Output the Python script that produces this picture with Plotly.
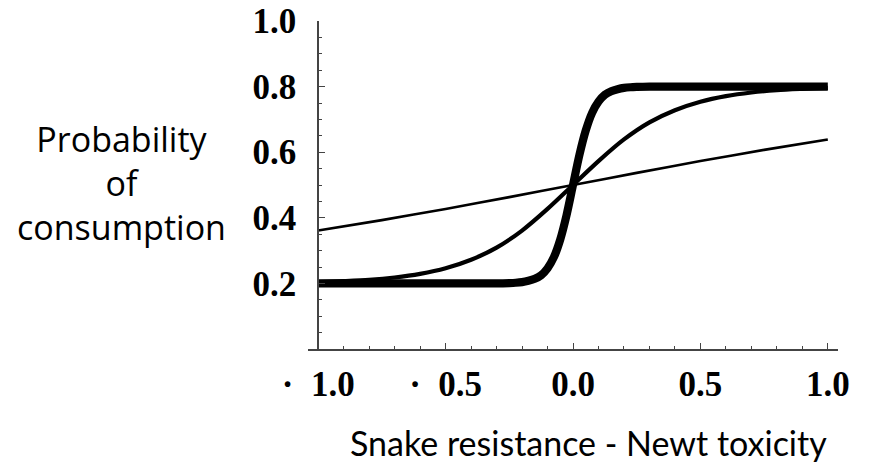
import plotly.graph_objects as go

# Values
thin_x = [-1.0, -0.75, -0.5, -0.25, 0.0, 0.25, 0.5, 0.75, 1.0]
thin_y = [0.361, 0.393, 0.427, 0.463, 0.500, 0.537, 0.573, 0.607, 0.639]

mid_x = [-1.0, -0.9, -0.8, -0.7, -0.6, -0.5, -0.4, -0.3, -0.2, -0.1, 0.0,
         0.1, 0.2, 0.3, 0.4, 0.5, 0.6, 0.7, 0.8, 0.9, 1.0]
mid_y = [0.204, 0.207, 0.211, 0.218, 0.229, 0.246, 0.272, 0.309, 0.361, 0.427, 0.500,
         0.573, 0.639, 0.691, 0.728, 0.754, 0.771, 0.782, 0.789, 0.793, 0.796]

thick_x = [-1.0, -0.5, -0.3, -0.25, -0.225, -0.2, -0.175, -0.15, -0.125, -0.1, -0.075, -0.05, -0.025,
           0.0, 0.025, 0.05, 0.075, 0.1, 0.125, 0.15, 0.175, 0.2, 0.225, 0.25, 0.3, 0.5, 1.0]
thick_y = [0.200, 0.200, 0.200, 0.201, 0.202, 0.204, 0.208, 0.214, 0.225, 0.246, 0.280, 0.334, 0.409,
           0.500, 0.591, 0.666, 0.720, 0.754, 0.775, 0.786, 0.792, 0.796, 0.798, 0.799, 0.800, 0.800, 0.800]

x_tick_vals = [-1.0, -0.5, 0.0, 0.5, 1.0]
x_tick_text = ["·\u00a0\u00a01.0", "·\u00a0\u00a00.5", "0.0", "0.5", "1.0"]
y_tick_vals = [0.2, 0.4, 0.6, 0.8, 1.0]
y_tick_text = ["0.2", "0.4", "0.6", "0.8", "1.0"]

x_title = "Snake resistance - Newt toxicity"
y_title = "Probability<br>of<br>consumption"

fig = go.Figure()
for xs, ys, w in [(thin_x, thin_y, 2.6), (mid_x, mid_y, 4.2), (thick_x, thick_y, 8.2)]:
    fig.add_trace(go.Scatter(x=xs, y=ys, mode="lines",
                             line=dict(color="black", width=w, shape="spline", smoothing=0.8),
                             showlegend=False, hoverinfo="skip"))

L, R, T, B = 308, 32, 21, 114
W, H = 870, 463
plot_w = W - L - R
plot_h = H - T - B
axis_col = "#444444"
tick_font = dict(family="Liberation Serif", size=35, color="black", weight="bold")

fig.update_layout(
    width=W, height=H,
    margin=dict(l=L, r=R, t=T, b=B, pad=0, autoexpand=False),
    paper_bgcolor="white", plot_bgcolor="white",
    xaxis=dict(range=[-1.04, 1.04], showgrid=False, zeroline=False, automargin=False,
               showline=True, linecolor=axis_col, linewidth=1.5,
               ticks="inside", ticklen=6, tickwidth=1.2, tickcolor=axis_col,
               tickvals=x_tick_vals, ticktext=x_tick_text, tickfont=tick_font,
               ticklabelstandoff=3,
               minor=dict(dtick=0.1, ticks="inside", ticklen=3, tickwidth=1, tickcolor=axis_col,
                          showgrid=False, tick0=0),
               fixedrange=True),
    yaxis=dict(range=[0, 1.0], showgrid=False, zeroline=False, automargin=False,
               anchor="free", position=(318 - L) / plot_w,
               showline=True, linecolor=axis_col, linewidth=1.5,
               ticks="inside", ticklen=6, tickwidth=1.2, tickcolor=axis_col,
               tickvals=y_tick_vals, ticktext=y_tick_text, tickfont=tick_font,
               ticklabelstandoff=14,
               minor=dict(dtick=0.05, ticks="inside", ticklen=3, tickwidth=1, tickcolor=axis_col,
                          showgrid=False, tick0=0),
               fixedrange=True),
    annotations=[
        dict(text=y_title, xref="paper", yref="paper",
             x=(121 - L) / plot_w, y=(349 - 183) / plot_h, xanchor="center", yanchor="middle",
             showarrow=False, align="center",
             font=dict(family="Open Sans", size=34, color="black")),
        dict(text=x_title, xref="paper", yref="paper",
             x=(588 - L) / plot_w, y=(349 - 442) / plot_h, xanchor="center", yanchor="middle",
             showarrow=False,
             font=dict(family="Lato", size=34, color="black")),
    ],
)

fig.write_html("out.html")
